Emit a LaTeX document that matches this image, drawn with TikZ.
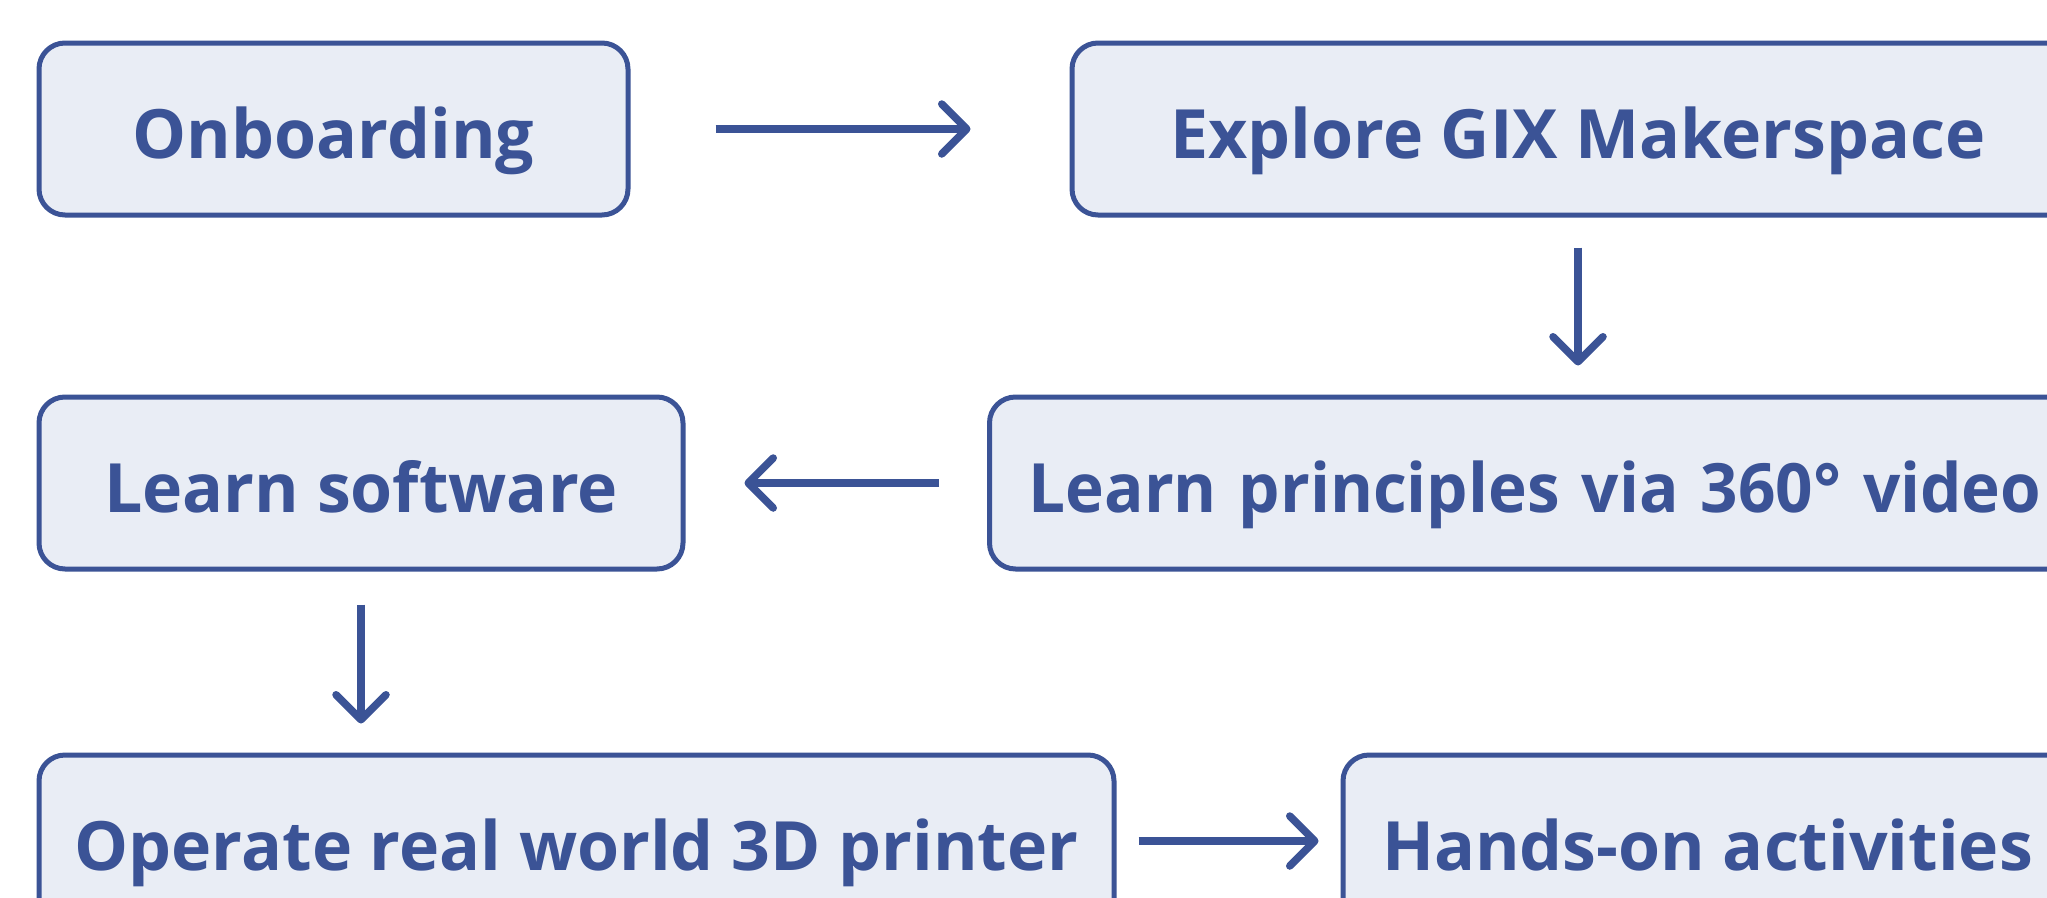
\documentclass[tikz,border=0pt]{standalone}
\usepackage{fontspec}
\setmainfont{Open Sans}
\usetikzlibrary{arrows.meta}
\definecolor{bord}{HTML}{3B5396}
\definecolor{fillc}{HTML}{E9EDF5}
\begin{document}
\begin{tikzpicture}[x=1pt,y=-1pt,
  box/.style={draw=bord, fill=fillc, line width=5pt, rounded corners=26pt,
    rectangle, minimum height=172pt, inner sep=0pt, text=bord,
    text height=58pt, text depth=0pt,
    font=\fontsize{68}{80}\selectfont\bfseries},
  conn/.style={draw=bord, line width=7.5pt,
    -{Straight Barb[length=25pt,width=50pt,line cap=round,line join=round]}}]
\useasboundingbox (0,0) rectangle (2047,897);
\clip (0,0) rectangle (2047,897);
\fill[white] (0,0) rectangle (2047,897);

\node[box, minimum width=589pt] (onb) at (333.5,129) {Onboarding};
\node[box, minimum width=1012pt] (exp) at (1578,129) {Explore GIX Makerspace};
\node[box, minimum width=644pt] (lsw) at (361,483) {Learn software};
\node[box, anchor=west, text width=1135pt, inner xsep=39pt, align=left] (lpr) at (987,483) {\scalebox{0.965}[1]{Learn principles via 360° video}};
\node[box, minimum width=1075pt] (op) at (576.5,841) {Operate real world 3D printer};
\node[box, minimum width=729pt] (hand) at (1707.5,841) {Hands-on activities};

\draw[conn, shorten <=85pt, shorten >=99pt] (onb.east) -- (exp.west);
\draw[conn, shorten <=30pt, shorten >=29pt] (exp.south) -- (exp.south |- lpr.north);
\draw[conn, shorten <=48pt, shorten >=59pt] (lpr.west) -- (lsw.east);
\draw[conn, shorten <=33pt, shorten >=29pt] (lsw.south) -- (lsw.south |- op.north);
\draw[conn, shorten <=22pt, shorten >=22pt] (op.east) -- (hand.west);
\end{tikzpicture}
\end{document}
